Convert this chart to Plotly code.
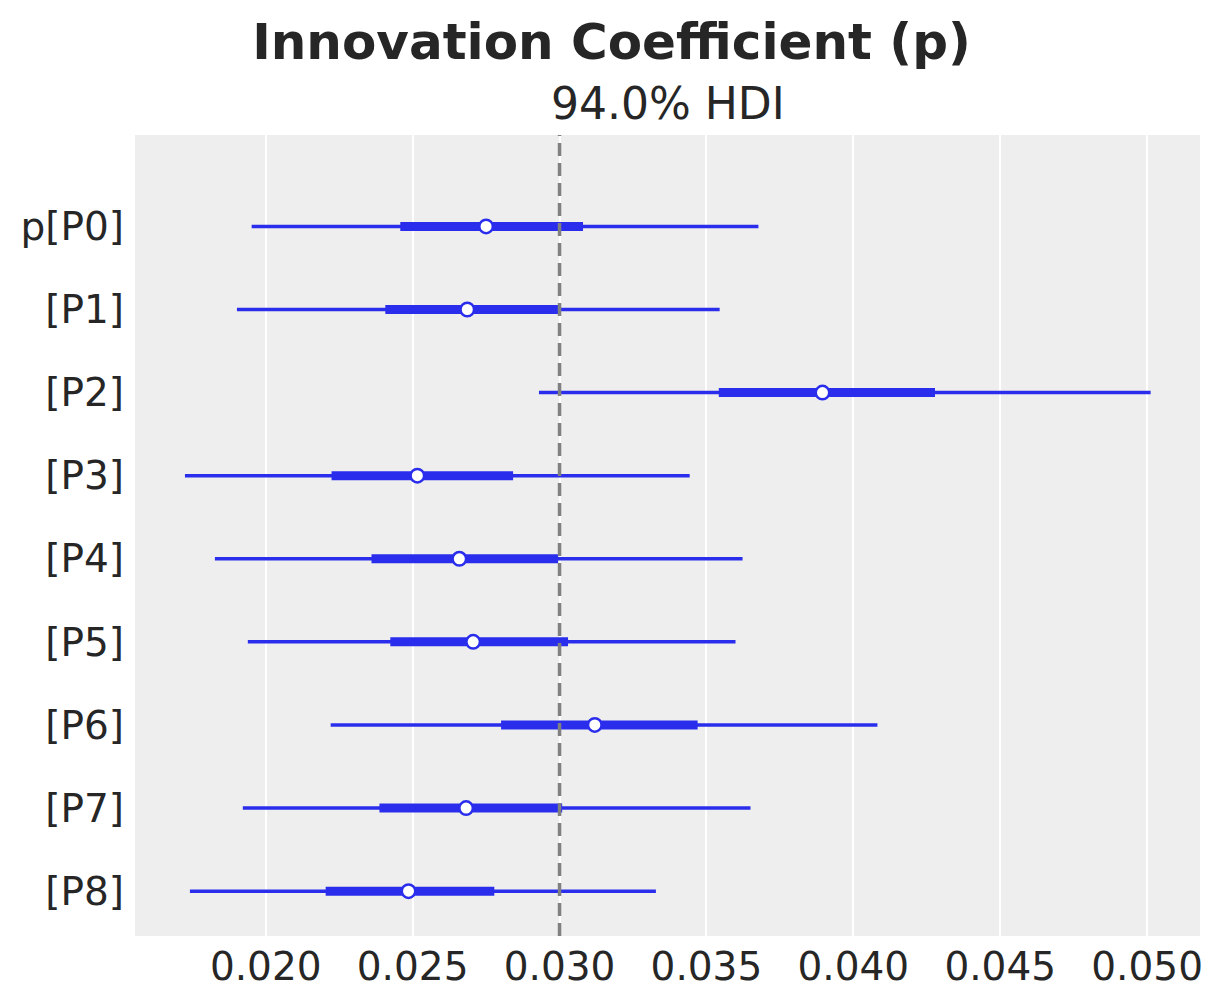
import plotly.graph_objects as go

# forest plot values
labels = ["p[P0]", "[P1]", "[P2]", "[P3]", "[P4]", "[P5]", "[P6]", "[P7]", "[P8]"]
hdi_low = [0.01952, 0.01902, 0.02930, 0.01725, 0.01827, 0.01939, 0.02221, 0.01922, 0.01742]
hdi_high = [0.03677, 0.03545, 0.05012, 0.03443, 0.03623, 0.03599, 0.04082, 0.03650, 0.03328]
iqr_low = [0.02458, 0.02407, 0.03542, 0.02224, 0.02360, 0.02424, 0.02801, 0.02387, 0.02204]
iqr_high = [0.03080, 0.03000, 0.04278, 0.02842, 0.02995, 0.03029, 0.03470, 0.03009, 0.02778]
medians = [0.02750, 0.02686, 0.03895, 0.02516, 0.02659, 0.02706, 0.03120, 0.02682, 0.02486]
ref_value = 0.030
xticks = [0.020, 0.025, 0.030, 0.035, 0.040, 0.045, 0.050]

blue = "#2a2eec"
n = len(labels)
ypos = [n - 1 - i for i in range(n)]

fig = go.Figure()

# thin lines: 94% HDI
for lo, hi, y in zip(hdi_low, hdi_high, ypos):
    fig.add_trace(go.Scatter(x=[lo, hi], y=[y, y], mode="lines",
                             line=dict(color=blue, width=3.5), showlegend=False))

# thick lines: interquartile range
for lo, hi, y in zip(iqr_low, iqr_high, ypos):
    fig.add_trace(go.Scatter(x=[lo, hi], y=[y, y], mode="lines",
                             line=dict(color=blue, width=9), showlegend=False))

# reference line
fig.add_shape(type="line", xref="x", yref="paper", x0=ref_value, x1=ref_value,
              y0=0, y1=1, line=dict(color="#808080", width=3.5, dash="13px,7px"))

# median markers
fig.add_trace(go.Scatter(x=medians, y=ypos, mode="markers",
                         marker=dict(color="white", size=13.5, line=dict(color=blue, width=2.5)),
                         showlegend=False))

fig.update_layout(
    width=1207, height=993,
    paper_bgcolor="white", plot_bgcolor="#eeeeee",
    margin=dict(l=125, r=15, t=127, b=62),
    font=dict(family="DejaVu Sans", color="#262626"),
    title=dict(text="<b>Innovation Coefficient (p)</b>", x=0.5, xanchor="center",
               xref="container", y=1 - 33 / 993, yanchor="middle",
               font=dict(size=50, color="#262626")),
    annotations=[dict(text="94.0% HDI", xref="paper", yref="paper", x=0.5, y=1,
                      yshift=32, xanchor="center", yanchor="middle", showarrow=False,
                      font=dict(size=44, color="#262626"))],
    xaxis=dict(range=[0.01555, 0.0518], tickvals=xticks,
               ticktext=[f"{v:.3f}" for v in xticks], showgrid=True,
               gridcolor="white", gridwidth=2, zeroline=False, showline=False,
               ticks="", tickfont=dict(size=39), ticklabelstandoff=4),
    yaxis=dict(range=[-0.54, 9.1], tickvals=ypos, ticktext=labels, showgrid=False,
               zeroline=False, showline=False, ticks="", tickfont=dict(size=39),
               ticklabelstandoff=10),
)

fig.write_html("out.html")
